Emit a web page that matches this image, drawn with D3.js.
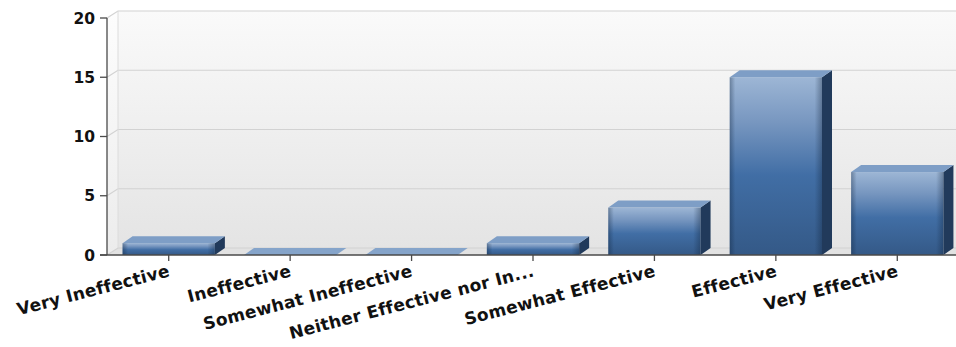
<!DOCTYPE html>
<html>
<head>
<meta charset="utf-8">
<script src="https://cdn.jsdelivr.net/npm/d3@7/dist/d3.min.js"></script>
<style>
  html, body { margin: 0; padding: 0; background: #ffffff; }
  svg { display: block; }
</style>
</head>
<body>
<svg id="chart" width="956" height="347"></svg>
<script>
// Survey responses: effectiveness rating counts
const categories = [
  "Very Ineffective",
  "Ineffective",
  "Somewhat Ineffective",
  "Neither Effective nor In...",
  "Somewhat Effective",
  "Effective",
  "Very Effective"
];
const counts = [1, 0, 0, 1, 4, 15, 7];
const yTicks = [0, 5, 10, 15, 20];

(function draw() {
  const svg = d3.select("#chart");
  const W = 956;

  // plot frame (front plane) and 3D depth offsets
  const plotLeft = 107, plotBottom = 255, plotTop = 18, plotRight = 958;
  const wallDX = 11, wallDY = -7;
  const barDX = 10, barDY = -7;

  const x = d3.scaleBand()
    .domain(categories)
    .range([plotLeft + 1, plotRight])
    .paddingInner(0.24)
    .paddingOuter(0.12);

  const y = d3.scaleLinear().domain([0, 20]).range([plotBottom, plotTop]);

  const defs = svg.append("defs");

  const wallGrad = defs.append("linearGradient")
    .attr("id", "wall").attr("x1", 0).attr("y1", 0).attr("x2", 0).attr("y2", 1);
  wallGrad.append("stop").attr("offset", "0%").attr("stop-color", "#fafafa");
  wallGrad.append("stop").attr("offset", "100%").attr("stop-color", "#e4e4e4");

  const sideGrad = defs.append("linearGradient")
    .attr("id", "sidewall").attr("x1", 0).attr("y1", 0).attr("x2", 0).attr("y2", 1);
  sideGrad.append("stop").attr("offset", "0%").attr("stop-color", "#fdfdfd");
  sideGrad.append("stop").attr("offset", "100%").attr("stop-color", "#ececec");

  const frontGrad = defs.append("linearGradient")
    .attr("id", "front").attr("x1", 0).attr("y1", 0).attr("x2", 0).attr("y2", 1);
  frontGrad.append("stop").attr("offset", "0%").attr("stop-color", "#9db6d5");
  frontGrad.append("stop").attr("offset", "25%").attr("stop-color", "#7897c0");
  frontGrad.append("stop").attr("offset", "55%").attr("stop-color", "#416ea5");
  frontGrad.append("stop").attr("offset", "100%").attr("stop-color", "#345987");

  const edgeGrad = defs.append("linearGradient")
    .attr("id", "edge").attr("x1", 0).attr("y1", 0).attr("x2", 1).attr("y2", 0);
  edgeGrad.append("stop").attr("offset", "0%").attr("stop-color", "#0d1f36").attr("stop-opacity", 0.35);
  edgeGrad.append("stop").attr("offset", "6%").attr("stop-color", "#0d1f36").attr("stop-opacity", 0);
  edgeGrad.append("stop").attr("offset", "92%").attr("stop-color", "#0d1f36").attr("stop-opacity", 0);
  edgeGrad.append("stop").attr("offset", "100%").attr("stop-color", "#0d1f36").attr("stop-opacity", 0.35);

  // back wall, left wall, floor
  const backL = plotLeft + wallDX, backB = plotBottom + wallDY, backT = plotTop + wallDY;
  svg.append("rect")
    .attr("x", backL).attr("y", backT)
    .attr("width", W - backL).attr("height", backB - backT)
    .attr("fill", "url(#wall)");
  svg.append("path")
    .attr("d", `M${plotLeft},${plotTop}L${backL},${backT}L${backL},${backB}L${plotLeft},${plotBottom}Z`)
    .attr("fill", "url(#sidewall)");
  svg.append("path")
    .attr("d", `M${plotLeft},${plotBottom}L${backL},${backB}L${W},${backB}L${W},${plotBottom}Z`)
    .attr("fill", "#e2e2e2");

  // gridlines on the back wall with diagonal connectors on the side wall
  const grid = svg.append("g").attr("stroke", "#d2d2d2").attr("stroke-width", 1.2).attr("fill", "none");
  yTicks.forEach(v => {
    const yy = y(v) + wallDY;
    grid.append("path")
      .attr("d", `M${plotLeft},${y(v)}L${backL},${yy}L${W},${yy}`);
  });
  svg.append("line")
    .attr("x1", backL).attr("x2", backL).attr("y1", backT).attr("y2", backB)
    .attr("stroke", "#dcdcdc");

  // bars
  const bars = svg.append("g");
  categories.forEach((c, i) => {
    const v = counts[i];
    const x0 = x(c), w = x.bandwidth();
    const y0 = y(v);
    const g = bars.append("g");
    if (v > 0) {
      g.append("rect")
        .attr("x", x0).attr("y", y0).attr("width", w).attr("height", plotBottom - y0)
        .attr("fill", "url(#front)");
      g.append("rect")
        .attr("x", x0).attr("y", y0).attr("width", w).attr("height", plotBottom - y0)
        .attr("fill", "url(#edge)");
      g.append("path")
        .attr("d", `M${x0 + w},${y0}L${x0 + w + barDX},${y0 + barDY}L${x0 + w + barDX},${plotBottom + barDY}L${x0 + w},${plotBottom}Z`)
        .attr("fill", "#213a5b");
    }
    g.append("path")
      .attr("d", `M${x0},${y0}L${x0 + barDX},${y0 + barDY}L${x0 + w + barDX},${y0 + barDY}L${x0 + w},${y0}Z`)
      .attr("fill", v > 0 ? "#7e9ec6" : "#85a4ca");
  });

  // axes
  const axisColor = "#4a4a4a";
  svg.append("line")
    .attr("x1", plotLeft).attr("x2", plotLeft).attr("y1", y(20)).attr("y2", plotBottom)
    .attr("stroke", axisColor).attr("stroke-width", 1.3);
  svg.append("line")
    .attr("x1", plotLeft - 7).attr("x2", W).attr("y1", plotBottom).attr("y2", plotBottom)
    .attr("stroke", axisColor).attr("stroke-width", 1.3);

  const yAxis = svg.append("g");
  yTicks.forEach(v => {
    yAxis.append("line")
      .attr("x1", plotLeft - 7).attr("x2", plotLeft).attr("y1", y(v)).attr("y2", y(v))
      .attr("stroke", axisColor).attr("stroke-width", 1.3);
    yAxis.append("text")
      .attr("x", plotLeft - 12).attr("y", y(v))
      .attr("dy", "0.36em")
      .attr("text-anchor", "end")
      .attr("font-family", "DejaVu Sans, Verdana, sans-serif")
      .attr("font-weight", "bold")
      .attr("font-size", 15.5)
      .attr("fill", "#111")
      .text(v);
  });

  const xAxis = svg.append("g");
  categories.forEach(c => {
    const cx = x(c) + x.bandwidth() / 2;
    xAxis.append("line")
      .attr("x1", cx).attr("x2", cx).attr("y1", plotBottom).attr("y2", plotBottom + 6)
      .attr("stroke", axisColor).attr("stroke-width", 1.3);
    xAxis.append("text")
      .attr("transform", `translate(${cx + 2},${plotBottom + 21}) rotate(-14.5)`)
      .attr("text-anchor", "end")
      .attr("font-family", "DejaVu Sans, Verdana, sans-serif")
      .attr("font-weight", "bold")
      .attr("font-size", 17)
      .attr("letter-spacing", 0.3)
      .attr("fill", "#111")
      .text(c);
  });
})();
</script>
</body>
</html>
